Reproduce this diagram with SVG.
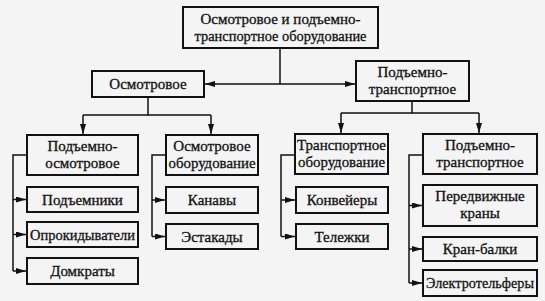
<svg xmlns="http://www.w3.org/2000/svg" width="545" height="301" viewBox="0 0 545 301">
<style>
.box{fill:#f4f4f4;stroke:#111;stroke-width:2}
.t{font-family:"Liberation Serif","Times New Roman",serif;font-size:15px;fill:#111;stroke:#111;stroke-width:0.3;text-anchor:middle}
.c{fill:none;stroke:#111;stroke-width:1.5}
.a{fill:none;stroke:#111;stroke-width:1.5;marker-end:url(#ah)}
</style>
<defs>
<marker id="ah" viewBox="0 0 10 6" refX="10" refY="3" markerWidth="10" markerHeight="6" orient="auto" markerUnits="userSpaceOnUse"><path d="M0,0 L10,3 L0,6 z" fill="#111"/></marker>
</defs>
<rect width="545" height="301" fill="#f4f4f4"/>
<g id="connectors">
<path class="c" d="M280,48 V84"/>
<path class="a" d="M280,84 H205"/>
<path class="a" d="M280,84 H355"/>
<path class="c" d="M148,97 V115 H83"/>
<path class="a" d="M83,115 V134"/>
<path class="c" d="M148,115 H211"/>
<path class="a" d="M211,115 V134"/>
<path class="c" d="M412,101 V113 H341"/>
<path class="a" d="M341,113 V133"/>
<path class="c" d="M412,113 H479"/>
<path class="a" d="M479,113 V133"/>
<path class="c" d="M27,155 H13 V271"/>
<path class="a" d="M13,199.5 H26"/>
<path class="a" d="M13,234.5 H26"/>
<path class="a" d="M13,271 H26"/>
<path class="c" d="M166,155 H152 V236.5"/>
<path class="a" d="M152,200 H165"/>
<path class="a" d="M152,236.5 H165"/>
<path class="c" d="M295,155 H281 V236.5"/>
<path class="a" d="M281,200 H295"/>
<path class="a" d="M281,236.5 H295"/>
<path class="c" d="M423,155 H409 V283"/>
<path class="a" d="M409,205.5 H422"/>
<path class="a" d="M409,249 H422"/>
<path class="a" d="M409,283 H422"/>
</g>
<g id="root"><rect class="box" x="183" y="7" width="195" height="41"/><text class="t" x="280.5" y="24">Осмотровое и подъемно-</text><text class="t" x="280.5" y="41" textLength="172" lengthAdjust="spacingAndGlyphs">транспортное оборудование</text></g>
<g id="osmotrovoe"><rect class="box" x="92" y="71" width="112" height="26"/><text class="t" x="148" y="89">Осмотровое</text></g>
<g id="podemno-transportnoe"><rect class="box" x="356" y="61" width="113" height="40"/><text class="t" x="412.5" y="77">Подъемно-</text><text class="t" x="412.5" y="94">транспортное</text></g>
<g id="podemno-osmotrovoe"><rect class="box" x="27" y="135" width="111" height="40"/><text class="t" x="82.5" y="151">Подъемно-</text><text class="t" x="82.5" y="168">осмотровое</text></g>
<g id="osmotrovoe-oborudovanie"><rect class="box" x="166" y="135" width="92" height="40"/><text class="t" x="212" y="151">Осмотровое</text><text class="t" x="212" y="168" textLength="87" lengthAdjust="spacingAndGlyphs">оборудование</text></g>
<g id="transportnoe-oborudovanie"><rect class="box" x="295" y="134" width="93" height="40"/><text class="t" x="341.5" y="150" textLength="89" lengthAdjust="spacingAndGlyphs">Транспортное</text><text class="t" x="341.5" y="167" textLength="87" lengthAdjust="spacingAndGlyphs">оборудование</text></g>
<g id="podemno-transportnoe-2"><rect class="box" x="423" y="134" width="114" height="40"/><text class="t" x="480" y="150">Подъемно-</text><text class="t" x="480" y="167">транспортное</text></g>
<g id="podemniki"><rect class="box" x="27" y="187" width="111" height="25"/><text class="t" x="82.5" y="204.5">Подъемники</text></g>
<g id="oprokidyvateli"><rect class="box" x="27" y="222" width="111" height="25"/><text class="t" x="82.5" y="239.5" textLength="105" lengthAdjust="spacingAndGlyphs">Опрокидыватели</text></g>
<g id="domkraty"><rect class="box" x="27" y="258" width="111" height="26"/><text class="t" x="82.5" y="276">Домкраты</text></g>
<g id="kanavy"><rect class="box" x="166" y="187" width="92" height="26"/><text class="t" x="212" y="205">Канавы</text></g>
<g id="estakady"><rect class="box" x="166" y="224" width="92" height="25"/><text class="t" x="212" y="241.5">Эстакады</text></g>
<g id="konveiery"><rect class="box" x="296" y="187" width="92" height="26"/><text class="t" x="342" y="205">Конвейеры</text></g>
<g id="telezhki"><rect class="box" x="296" y="224" width="92" height="25"/><text class="t" x="342" y="241.5">Тележки</text></g>
<g id="peredvizhnye-krany"><rect class="box" x="423" y="185" width="114" height="41"/><text class="t" x="480" y="201">Передвижные</text><text class="t" x="480" y="218">краны</text></g>
<g id="kran-balki"><rect class="box" x="423" y="237" width="114" height="24"/><text class="t" x="480" y="254">Кран-балки</text></g>
<g id="elektrotelfery"><rect class="box" x="423" y="270" width="114" height="26"/><text class="t" x="480" y="288" textLength="108" lengthAdjust="spacingAndGlyphs">Электротельферы</text></g>
</svg>
